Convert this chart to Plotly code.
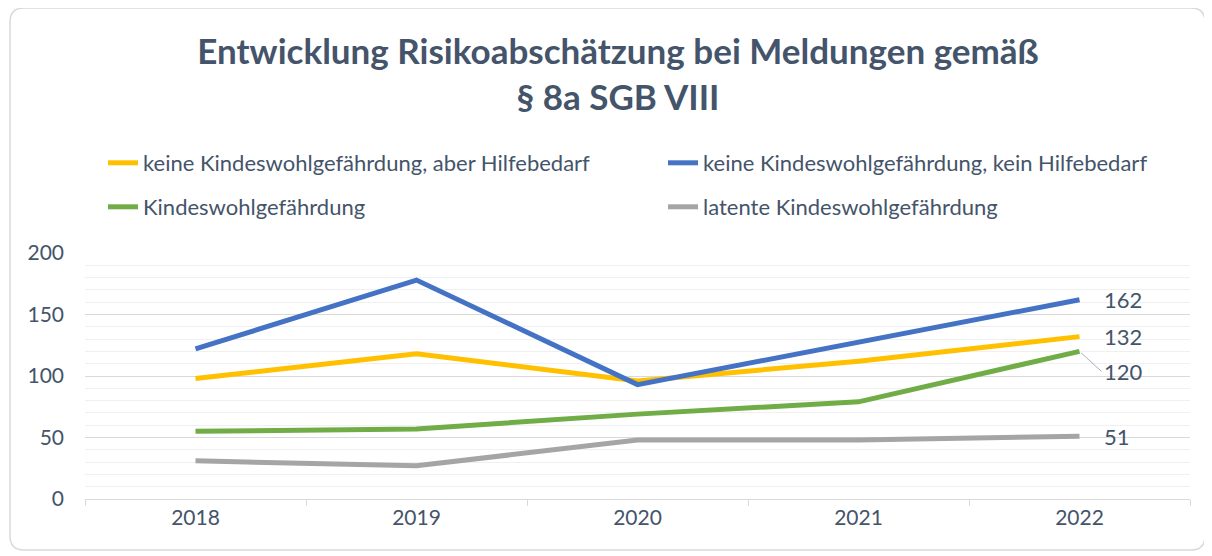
import plotly.graph_objects as go

years = ["2018", "2019", "2020", "2021", "2022"]
aber_hilfebedarf = [98, 118, 96, 112, 132]
kein_hilfebedarf = [122, 178, 93, 128, 162]
gefaehrdung = [55, 57, 69, 79, 120]
latent = [31, 27, 48, 48, 51]

names = [
    "keine Kindeswohlgefährdung, aber Hilfebedarf",
    "keine Kindeswohlgefährdung, kein Hilfebedarf",
    "Kindeswohlgefährdung",
    "latente Kindeswohlgefährdung",
]
colors = ["#FFC000", "#4472C4", "#70AD47", "#A5A5A5"]
series = [aber_hilfebedarf, kein_hilfebedarf, gefaehrdung, latent]
legends = ["legend", "legend2", "legend3", "legend4"]

FONT = "Lato"
TXT = "#44546A"
OFF = 8  # browser body margin
FW, FH = 1212 - OFF, 556 - OFF

fig = go.Figure()
for n, c, s, lg in zip(names, colors, series, legends):
    fig.add_trace(go.Scatter(
        x=years, y=s, name=n, mode="lines",
        line=dict(color=c, width=5),
        legend=lg,
    ))

last = len(years) - 1
for s in (aber_hilfebedarf, kein_hilfebedarf, latent):
    fig.add_annotation(x=last, y=s[-1], text=str(s[-1]), showarrow=False,
                       xanchor="left", xshift=22,
                       font=dict(family=FONT, size=22, color=TXT))
fig.add_annotation(x=last, y=gefaehrdung[-1], text=str(gefaehrdung[-1]),
                   showarrow=True, arrowhead=0, arrowwidth=1, arrowcolor="#A6B1C2",
                   ax=22, ay=20, xanchor="left", standoff=2,
                   font=dict(family=FONT, size=22, color=TXT))

# plot area in page pixels (reference coords minus offset)
L, R, T, B = 85 - OFF, 1190 - OFF, 253 - OFF, 499 - OFF
W, H = R - L, B - T
def px(x): return (x - OFF - L) / W
def py(y): return (B - (y - OFF)) / H

x0, x1, y0, y1, r = 10, 1205, 8, 550, 14
path = (f"M {px(x0+r)},{py(y0)} L {px(x1-r)},{py(y0)} Q {px(x1)},{py(y0)} {px(x1)},{py(y0+r)} "
        f"L {px(x1)},{py(y1-r)} Q {px(x1)},{py(y1)} {px(x1-r)},{py(y1)} "
        f"L {px(x0+r)},{py(y1)} Q {px(x0)},{py(y1)} {px(x0)},{py(y1-r)} "
        f"L {px(x0)},{py(y0+r)} Q {px(x0)},{py(y0)} {px(x0+r)},{py(y0)} Z")
fig.add_shape(type="path", path=path, xref="paper", yref="paper",
              line=dict(color="#D9D9D9", width=1.5), layer="below")

leg_font = dict(family=FONT, size=22, color=TXT)
def leg(xr, yr):
    return dict(orientation="h", x=px(xr), y=py(yr), xanchor="left", yanchor="top",
                font=leg_font, bgcolor="rgba(0,0,0,0)")

fig.update_layout(
    width=FW, height=FH,
    margin=dict(l=L, r=FW - R, t=T, b=FH - B, autoexpand=False),
    paper_bgcolor="white", plot_bgcolor="white",
    font=dict(family=FONT, color=TXT, size=21),
    title=dict(text="<b>Entwicklung Risikoabschätzung bei Meldungen gemäß<br>§ 8a SGB VIII</b>",
               x=(618 - OFF) / FW, xanchor="center", xref="container",
               y=1 - (64 - OFF) / FH, yanchor="top", yref="container",
               font=dict(family=FONT, size=35, color=TXT)),
    legend=leg(103, 142),
    legend2=leg(663, 142),
    legend3=leg(103, 186),
    legend4=leg(663, 186),
    showlegend=True,
)
fig.update_xaxes(type="category", range=[-0.5, 4.5], tickson="boundaries",
                 ticks="outside", ticklen=6, tickcolor="#D9D9D9",
                 showline=True, linecolor="#D9D9D9", linewidth=1, showgrid=False,
                 automargin=False,
                 tickfont=dict(family=FONT, size=21, color=TXT))
fig.update_yaxes(range=[0, 200], dtick=50, showgrid=True, gridcolor="#D9D9D9", gridwidth=1,
                 minor=dict(dtick=10, showgrid=True, gridcolor="#F0F0F0", gridwidth=1),
                 zeroline=False, ticks="", ticklabelstandoff=20, automargin=False,
                 tickfont=dict(family=FONT, size=21, color=TXT))

fig.write_html("out.html")
